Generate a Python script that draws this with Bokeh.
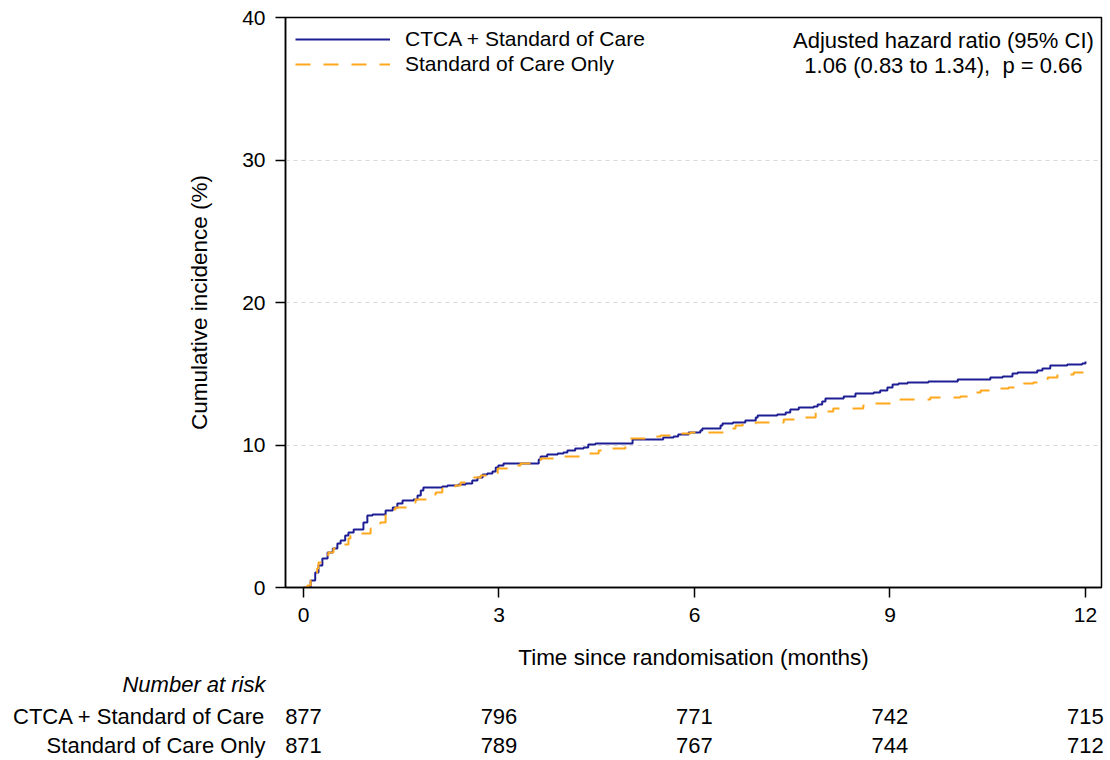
from bokeh.plotting import figure
from bokeh.models import Range1d, FixedTicker, Label, Legend, LegendItem, ColumnDataSource
from bokeh.layouts import column
from bokeh.embed import file_html
from bokeh.resources import INLINE

# ---------------- data ----------------
series_names = ["CTCA + Standard of Care", "Standard of Care Only"]

ctca_t = [0.00, 0.03, 0.11, 0.18, 0.23, 0.29, 0.37, 0.45, 0.52, 0.57, 0.64, 0.69, 0.77,
          0.92, 0.98, 1.06, 1.26, 1.37, 1.44, 1.52, 1.69, 1.75, 1.80, 1.84, 2.13, 2.21,
          2.38, 2.49, 2.59, 2.67, 2.75, 2.82, 2.90, 2.95, 2.99, 3.07, 3.61, 3.64, 3.74,
          3.90, 3.99, 4.05, 4.17, 4.30, 4.37, 4.48, 5.05, 5.52, 5.68, 5.75, 5.91, 6.09,
          6.12, 6.40, 6.43, 6.59, 6.78, 6.94, 6.97, 7.27, 7.40, 7.47, 7.60, 7.83, 7.89,
          7.96, 8.01, 8.29, 8.47, 8.75, 8.85, 8.96, 9.04, 9.13, 9.27, 9.59, 10.04, 10.54,
          10.73, 10.88, 10.96, 11.26, 11.34, 11.46, 11.72, 11.95, 12.00]
ctca_y = [0.00, 0.00, 0.49, 1.05, 1.54, 2.04, 2.46, 2.74, 3.09, 3.30, 3.65, 3.86, 4.07,
          4.56, 5.05, 5.12, 5.40, 5.61, 5.89, 6.10, 6.18, 6.46, 6.81, 7.02, 7.09, 7.16,
          7.23, 7.30, 7.51, 7.72, 7.93, 8.00, 8.14, 8.42, 8.56, 8.70, 8.98, 9.19, 9.33,
          9.40, 9.47, 9.61, 9.75, 9.82, 10.04, 10.10, 10.39, 10.53, 10.60, 10.74, 10.88, 11.02,
          11.16, 11.37, 11.51, 11.58, 11.72, 11.93, 12.07, 12.14, 12.28, 12.49, 12.63, 12.70, 12.84,
          13.05, 13.26, 13.40, 13.61, 13.68, 13.82, 14.04, 14.25, 14.32, 14.39, 14.46, 14.60, 14.74,
          14.81, 15.02, 15.09, 15.23, 15.37, 15.58, 15.65, 15.72, 15.86]

soc_t = [0.00, 0.06, 0.11, 0.15, 0.21, 0.23, 0.29, 0.38, 0.46, 0.54, 0.60, 0.69, 0.72,
         0.83, 1.03, 1.10, 1.18, 1.26, 1.37, 1.41, 1.61, 1.69, 1.72, 1.92, 2.03, 2.13,
         2.22, 2.33, 2.41, 2.61, 2.72, 2.98, 3.13, 3.33, 3.64, 3.90, 3.94, 4.33, 4.53,
         4.74, 4.94, 5.00, 5.28, 5.48, 5.71, 5.94, 6.58, 6.63, 6.74, 6.94, 7.37, 7.58,
         7.86, 7.96, 8.13, 8.59, 8.73, 9.01, 9.16, 9.62, 10.08, 10.27, 10.39, 10.66, 10.82,
         11.05, 11.20, 11.42, 11.57, 11.82, 12.00]
soc_y = [0.00, 0.14, 0.49, 0.84, 1.33, 1.75, 1.96, 2.46, 2.74, 2.88, 3.02, 3.44, 3.65,
         3.79, 4.14, 4.49, 4.56, 5.19, 5.47, 5.61, 5.75, 5.96, 6.18, 6.53, 6.67, 6.95,
         7.02, 7.16, 7.37, 7.72, 7.86, 8.35, 8.56, 8.70, 9.05, 9.12, 9.19, 9.40, 9.61,
         9.75, 9.96, 10.46, 10.60, 10.67, 10.81, 10.88, 11.16, 11.37, 11.51, 11.58, 11.79, 11.93,
         12.28, 12.35, 12.56, 12.77, 12.91, 13.05, 13.19, 13.33, 13.40, 13.68, 13.82, 13.96, 14.04,
         14.32, 14.39, 14.74, 14.95, 15.09, 15.09]

risk_times = [0, 3, 6, 9, 12]
ctca_risk = [877, 796, 771, 742, 715]
soc_risk = [871, 789, 767, 744, 712]

x_ticks = [0, 3, 6, 9, 12]
y_ticks = [0, 10, 20, 30, 40]
hr_lines = ["Adjusted hazard ratio (95% CI)", "1.06 (0.83 to 1.34),\u00a0 p = 0.66"]
risk_title = "Number at risk"

x_title = "Time since randomisation (months)"
y_title = "Cumulative incidence (%)"

# ---------------- style ----------------
FONT = "Liberation Sans"
FS = "21px"
FS_TITLE = "22.5px"
FS_TABLE = "22px"
BLUE = "#1E1E94"
ORANGE = "#FFA81C"
W = 1110
BL, BR, BT, BB = 285, 9, 17, 86          # borders of the main plot frame
FRAME_W = W - BL - BR
X_RANGE = (-0.276, 12.246)

# ---------------- main plot ----------------
p = figure(width=W, height=BT + 570 + BB, x_range=Range1d(*X_RANGE), y_range=Range1d(0, 40),
           output_backend="svg", toolbar_location=None, frame_align=False,
           min_border_left=BL, min_border_right=BR, min_border_top=BT, min_border_bottom=BB)

r_ctca = p.step(ctca_t, ctca_y, mode="after", line_color=BLUE, line_width=2)
r_soc = p.step(soc_t, soc_y, mode="after", line_color=ORANGE, line_width=2, line_dash="15 13")

p.outline_line_color = "black"
p.outline_line_width = 1.5
p.outline_line_alpha = 1

for ax in (p.xaxis[0], p.yaxis[0]):
    ax.axis_line_width = 1.5
    ax.axis_line_color = "black"
    ax.major_tick_line_width = 1.5
    ax.major_tick_line_color = "black"
    ax.major_tick_out = 10
    ax.major_tick_in = 0
    ax.minor_tick_line_color = None
    ax.major_label_text_font = FONT
    ax.major_label_text_font_size = FS
    ax.major_label_text_color = "black"
    ax.axis_label_text_font = FONT
    ax.axis_label_text_font_size = FS_TITLE
    ax.axis_label_text_font_style = "normal"
    ax.axis_label_text_color = "black"

p.xaxis.ticker = FixedTicker(ticks=x_ticks)
p.yaxis.ticker = FixedTicker(ticks=y_ticks)
p.xaxis.axis_label = x_title
p.yaxis.axis_label = y_title
p.xaxis.major_label_standoff = 10
p.xaxis.axis_label_standoff = 20
p.yaxis.major_label_standoff = 10
p.yaxis.axis_label_standoff = 27

p.xgrid.visible = False
p.ygrid.grid_line_color = "#d8d8d8"
p.ygrid.grid_line_dash = "4 4"
p.ygrid.grid_line_width = 1

legend = Legend(items=[LegendItem(label=series_names[0], renderers=[r_ctca]),
                       LegendItem(label=series_names[1], renderers=[r_soc])],
                location="top_left", margin=10, padding=3, spacing=1,
                glyph_width=95, glyph_height=20, label_standoff=15,
                label_text_font=FONT, label_text_font_size=FS, label_text_color="black",
                border_line_color=None, background_fill_alpha=0)
p.add_layout(legend)

for i, txt in enumerate(hr_lines):
    p.add_layout(Label(x=9.82, y=38.4 - 1.76 * i, text=txt, text_align="center",
                       text_baseline="middle", text_font=FONT, text_font_size=FS_TABLE,
                       text_color="black"))

# ---------------- number-at-risk table ----------------
# same x mapping as the main plot, but with a frame spanning the whole width
scale = FRAME_W / (X_RANGE[1] - X_RANGE[0])
q_range = Range1d(X_RANGE[0] - BL / scale, X_RANGE[1] + BR / scale)
label_x = X_RANGE[0] - 20 / scale

QH = 760 - (BT + 570 + BB)
q = figure(width=W, height=QH, x_range=q_range, y_range=Range1d(2.517, -0.483),
           output_backend="svg", toolbar_location=None, frame_align=False,
           min_border_left=0, min_border_right=0, min_border_top=0, min_border_bottom=0)
q.outline_line_color = None
q.grid.visible = False
q.axis.visible = False

src = ColumnDataSource(dict(
    x=risk_times + risk_times,
    y=[1] * len(risk_times) + [2] * len(risk_times),
    t=[str(v) for v in ctca_risk] + [str(v) for v in soc_risk],
))
q.text(x="x", y="y", text="t", source=src, text_align="center", text_baseline="middle",
       text_font={"value": FONT}, text_font_size={"value": FS_TABLE}, text_color="black")

lab_src = ColumnDataSource(dict(x=[label_x, label_x], y=[1, 2], t=series_names))
q.text(x="x", y="y", text="t", source=lab_src, text_align="right", text_baseline="middle",
       text_font={"value": FONT}, text_font_size={"value": FS_TABLE}, text_color="black")

q.text(x=[label_x], y=[-0.103], text=[risk_title], text_align="right", text_baseline="middle",
       text_font={"value": FONT}, text_font_size={"value": FS_TABLE},
       text_font_style="italic", text_color="black")

layout = column(p, q, spacing=0)
open("out.html", "w").write(file_html(layout, INLINE))
